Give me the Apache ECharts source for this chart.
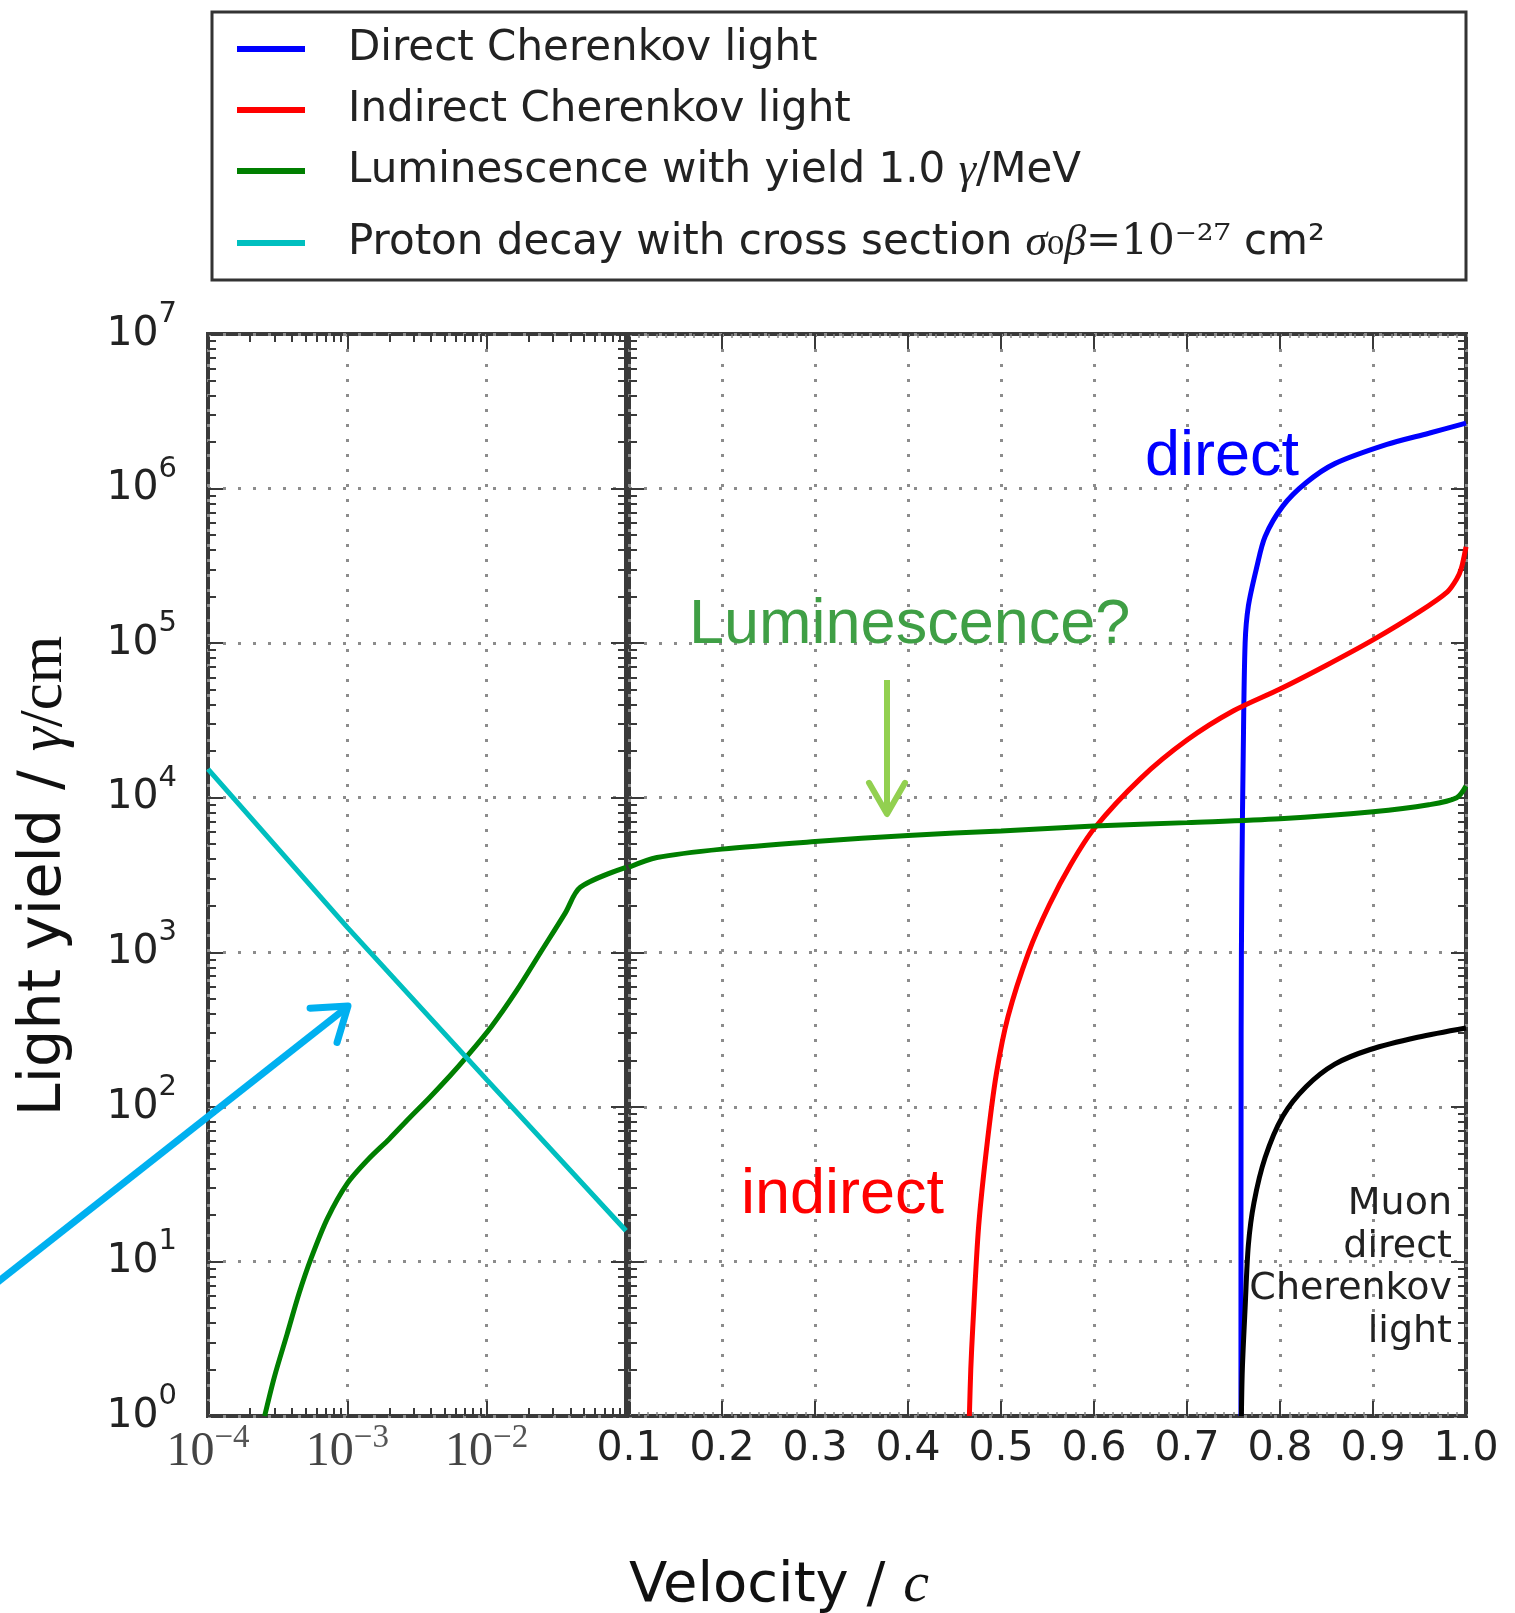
<!DOCTYPE html>
<html>
<head>
<meta charset="utf-8">
<title>Light yield vs velocity</title>
<script src="https://cdn.jsdelivr.net/npm/echarts@6/dist/echarts.min.js"></script>
<style>
  html, body { margin: 0; padding: 0; background: #ffffff; }
  #chart { width: 1515px; height: 1613px; }
</style>
</head>
<body>
<div id="chart"></div>
<script>
// ---------------- data ----------------
// Proton decay (left, log-velocity panel)
const protonX = [1e-4, 1e-3, 1e-2, 0.1];
const protonY = [15300, 1450, 150, 15.8];

// Luminescence, slow part (left panel)
const lumiLowX = [2.55e-4, 3.0e-4, 3.7e-4, 4.5e-4, 5.5e-4, 7.2e-4, 1.0e-3, 1.42e-3, 2.0e-3, 2.8e-3, 3.9e-3, 5.5e-3, 7.0e-3, 1.08e-2, 1.63e-2, 2.44e-2, 3.67e-2, 4.7e-2, 0.1];
const lumiLowY = [1, 1.8, 3.4, 6.2, 10.5, 19, 32, 46, 62, 85, 115, 160, 205, 330, 560, 1000, 1800, 2630, 3540];

// Luminescence, fast part (right panel)
const lumiHighX = [0.1, 0.13, 0.2, 0.3, 0.4, 0.5, 0.6, 0.7, 0.8, 0.9, 0.96, 0.99, 1.0];
const lumiHighY = [3550, 4100, 4650, 5200, 5700, 6100, 6550, 6900, 7300, 8100, 9000, 10000, 11900];

// Indirect Cherenkov light
const indirectX = [0.466, 0.4675, 0.4696, 0.476, 0.4854, 0.4949, 0.5076, 0.5297, 0.552, 0.575, 0.6, 0.65, 0.7, 0.75, 0.8, 0.85, 0.9, 0.95, 0.98, 0.99, 0.995, 1.0];
const indirectY = [1, 2, 3.7, 17, 60, 162, 385, 1000, 2030, 3700, 6300, 13300, 23600, 36500, 50500, 72000, 105000, 160000, 215000, 260000, 305000, 420000];

// Direct Cherenkov light
const directX = [0.758, 0.7582, 0.759, 0.7605, 0.7625, 0.766, 0.775, 0.784, 0.803, 0.828, 0.859, 0.915, 0.96, 1.0];
const directY = [1, 300, 3000, 20000, 100000, 174000, 310000, 490000, 770000, 1090000, 1450000, 1930000, 2280000, 2650000];

// Muon direct Cherenkov light
const muonX = [0.7585, 0.7595, 0.7625, 0.766, 0.772, 0.784, 0.803, 0.828, 0.859, 0.897, 0.948, 1.0];
const muonY = [1, 2, 5, 12.8, 24, 47, 87, 135, 189, 235, 282, 324];

// tick positions / labels
const logXTicks = [1e-4, 1e-3, 1e-2];
const logYTicks = [1, 10, 100, 1e3, 1e4, 1e5, 1e6, 1e7];
const linXTicks = [0.1, 0.2, 0.3, 0.4, 0.5, 0.6, 0.7, 0.8, 0.9, 1.0];

const NAME_DIRECT = 'Direct Cherenkov light';
const NAME_INDIRECT = 'Indirect Cherenkov light';
const NAME_LUMI = 'Luminescence with yield 1.0 γ/MeV';
const NAME_PROTON = 'Proton decay with cross section σ0β=10-27 cm2';
const NAME_MUON = 'Muon direct Cherenkov light';

// ---------------- helpers ----------------
const pairs = (xs, ys) => xs.map((x, i) => [x, ys[i]]);

function minorLog(lo, hi) {
  const out = [];
  for (let e = lo; e < hi; e++) {
    for (let m = 2; m <= 9; m++) out.push(m * Math.pow(10, e));
  }
  return out;
}

const FRAME = '#3a3a3a';
const GRID_LINE = { show: true, lineStyle: { color: '#8c8c8c', width: 3, type: [3, 12] } };
const TICK_MAJOR = (vals) => ({ show: true, inside: true, length: 15, lineStyle: { color: FRAME, width: 2 }, customValues: vals });
const TICK_MINOR = (vals) => ({ show: true, inside: true, length: 8, lineStyle: { color: FRAME, width: 2 }, customValues: vals });
const NO_LABEL = { show: false };
const NO_LINE = { show: false };

const G0 = { left: 208, top: 334, width: 418, height: 1082 };
const G1 = { left: 629, top: 334, width: 837, height: 1082 };

function logX(extra) {
  return Object.assign({ type: 'log', logBase: 10, min: 1e-4, max: 0.1, splitNumber: 3, gridIndex: 0,
    axisLine: NO_LINE, splitLine: { show: false }, axisLabel: NO_LABEL, axisTick: { show: false } }, extra);
}
function logY(grid, extra) {
  return Object.assign({ type: 'log', logBase: 10, min: 1, max: 1e7, splitNumber: 7, gridIndex: grid,
    axisLine: NO_LINE, splitLine: { show: false }, axisLabel: NO_LABEL, axisTick: { show: false } }, extra);
}
function linX(extra) {
  return Object.assign({ type: 'value', min: 0.1, max: 1.0, interval: 0.1, gridIndex: 1,
    axisLine: NO_LINE, splitLine: { show: false }, axisLabel: NO_LABEL,
    axisTick: { show: true, inside: true, length: 15, lineStyle: { color: FRAME, width: 2 } },
    minorTick: { show: true, splitNumber: 10, length: 4, lineStyle: { color: '#888', width: 1.5 } } }, extra);
}

const minorX = minorLog(-4, -1);
const minorY = minorLog(0, 7);

const superRichY = {
  b: { fontFamily: 'DejaVu Sans', fontSize: 41, color: '#222', lineHeight: 68 },
  s: { fontFamily: 'DejaVu Sans', fontSize: 29, color: '#222', verticalAlign: 'top' }
};
const superRichX = {
  b: { fontFamily: 'Liberation Serif', fontSize: 48, color: '#444', lineHeight: 60 },
  s: { fontFamily: 'Liberation Serif', fontSize: 33, color: '#555', verticalAlign: 'top' }
};

const lineBase = { type: 'line', symbol: 'none', showSymbol: false, smooth: 0.3, clip: true, silent: true };

// arrow head for a straight annotation arrow
function arrowHead(tail, tip, len, ang) {
  const dx = tip[0] - tail[0], dy = tip[1] - tail[1];
  const d = Math.hypot(dx, dy);
  const bx = -dx / d, by = -dy / d;
  const rot = (a) => [tip[0] + len * (bx * Math.cos(a) - by * Math.sin(a)), tip[1] + len * (bx * Math.sin(a) + by * Math.cos(a))];
  return [rot(ang), tip, rot(-ang)];
}

const cyanTail = [-6, 1285], cyanTip = [348, 1006];
const greenTail = [887, 680], greenTip = [887, 814];

const legendText = {};
legendText[NAME_DIRECT] = '{sp| }Direct Cherenkov light';
legendText[NAME_INDIRECT] = '{sp| }Indirect Cherenkov light';
legendText[NAME_LUMI] = '{sp| }Luminescence with yield 1.0 {g|γ}/MeV';
legendText[NAME_PROTON] = '{sp| }Proton decay with cross section {g|σ}{u|₀}{g|β}{u|=10⁻²⁷}{tall| cm²}';

const option = {
  animation: false,
  backgroundColor: '#ffffff',
  grid: [
    Object.assign({ show: true, borderColor: FRAME, borderWidth: 4, backgroundColor: 'transparent', outerBoundsMode: 'none' }, G0),
    Object.assign({ show: true, borderColor: FRAME, borderWidth: 4, backgroundColor: 'transparent', outerBoundsMode: 'none' }, G1)
  ],
  legend: {
    orient: 'vertical', left: 237, top: 24, padding: 0, itemGap: 11,
    itemWidth: 68, itemHeight: 6, icon: 'rect', selectedMode: false,
    data: [NAME_DIRECT, NAME_INDIRECT, NAME_LUMI, NAME_PROTON],
    formatter: (name) => legendText[name],
    textStyle: {
      fontFamily: 'DejaVu Sans', fontSize: 42, color: '#222', lineHeight: 50,
      rich: {
        sp: { width: 38, fontFamily: 'DejaVu Sans', fontSize: 42, lineHeight: 50 },
        g: { fontFamily: 'Liberation Serif', fontStyle: 'italic', fontSize: 44, color: '#222', lineHeight: 50 },
        u: { fontFamily: 'DejaVu Serif', fontSize: 42, color: '#222', lineHeight: 50 },
        tall: { fontFamily: 'DejaVu Sans', fontSize: 42, color: '#222', lineHeight: 72 }
      }
    }
  },
  xAxis: [
    logX({ position: 'bottom', splitLine: GRID_LINE, axisTick: TICK_MAJOR(logXTicks),
      axisLabel: { show: true, customValues: logXTicks, margin: 6,
        formatter: (v) => '{b|10}{s|−' + Math.round(-Math.log10(v)) + '}', rich: superRichX } }),
    logX({ position: 'bottom', axisTick: TICK_MINOR(minorX) }),
    logX({ position: 'top', axisTick: TICK_MAJOR(logXTicks) }),
    logX({ position: 'top', axisTick: TICK_MINOR(minorX) }),
    linX({ position: 'bottom', splitLine: GRID_LINE,
      axisLabel: { show: true, customValues: linXTicks, margin: 13, fontFamily: 'DejaVu Sans', fontSize: 41, color: '#222',
        formatter: (v) => v.toFixed(1) } }),
    linX({ position: 'top' })
  ],
  yAxis: [
    logY(0, { position: 'left', splitLine: GRID_LINE, axisTick: TICK_MAJOR(logYTicks),
      axisLabel: { show: true, customValues: logYTicks, margin: 31,
        formatter: (v) => '{b|10}{s|' + Math.round(Math.log10(v)) + '}', rich: superRichY } }),
    logY(0, { position: 'left', axisTick: TICK_MINOR(minorY) }),
    logY(0, { position: 'right', axisTick: TICK_MAJOR(logYTicks) }),
    logY(0, { position: 'right', axisTick: TICK_MINOR(minorY) }),
    logY(1, { position: 'left', splitLine: GRID_LINE, axisTick: TICK_MAJOR(logYTicks) }),
    logY(1, { position: 'left', axisTick: TICK_MINOR(minorY) }),
    logY(1, { position: 'right', axisTick: TICK_MAJOR(logYTicks) }),
    logY(1, { position: 'right', axisTick: TICK_MINOR(minorY) })
  ],
  series: [
    Object.assign({}, lineBase, { name: NAME_DIRECT, xAxisIndex: 4, yAxisIndex: 4, data: pairs(directX, directY),
      lineStyle: { color: '#0000ff', width: 5 }, itemStyle: { color: '#0000ff' } }),
    Object.assign({}, lineBase, { name: NAME_INDIRECT, xAxisIndex: 4, yAxisIndex: 4, data: pairs(indirectX, indirectY),
      lineStyle: { color: '#ff0000', width: 5 }, itemStyle: { color: '#ff0000' } }),
    Object.assign({}, lineBase, { name: NAME_LUMI, xAxisIndex: 0, yAxisIndex: 0, data: pairs(lumiLowX, lumiLowY),
      lineStyle: { color: '#007f00', width: 5 }, itemStyle: { color: '#007f00' } }),
    Object.assign({}, lineBase, { name: NAME_LUMI, xAxisIndex: 4, yAxisIndex: 4, data: pairs(lumiHighX, lumiHighY),
      lineStyle: { color: '#007f00', width: 5 }, itemStyle: { color: '#007f00' } }),
    Object.assign({}, lineBase, { name: NAME_PROTON, xAxisIndex: 0, yAxisIndex: 0, data: pairs(protonX, protonY), smooth: false,
      lineStyle: { color: '#00bfbf', width: 5 }, itemStyle: { color: '#00bfbf' } }),
    Object.assign({}, lineBase, { name: NAME_MUON, xAxisIndex: 4, yAxisIndex: 4, data: pairs(muonX, muonY),
      lineStyle: { color: '#000000', width: 5 }, itemStyle: { color: '#000000' } })
  ],
  graphic: [
    // legend frame
    { type: 'rect', shape: { x: 212, y: 12, width: 1254, height: 268 }, style: { fill: 'none', stroke: '#333', lineWidth: 3 }, z: 5 },
    // axis titles
    { type: 'text', x: 45, y: 876, rotation: Math.PI / 2, z: 10,
      style: { text: '{a|Light yield / }{g|γ}{r|/cm}', align: 'center', verticalAlign: 'middle',
        rich: {
          a: { fontFamily: 'DejaVu Sans', fontSize: 59, fill: '#111' },
          g: { fontFamily: 'Liberation Serif', fontStyle: 'italic', fontSize: 61, fill: '#111' },
          r: { fontFamily: 'Liberation Serif', fontSize: 61, fill: '#111' }
        } } },
    { type: 'text', x: 779, y: 1586, z: 10,
      style: { text: '{a|Velocity / }{c|c}', align: 'center', verticalAlign: 'middle',
        rich: {
          a: { fontFamily: 'DejaVu Sans', fontSize: 56, fill: '#111' },
          c: { fontFamily: 'Liberation Serif', fontStyle: 'italic', fontSize: 58, fill: '#111' }
        } } },
    // curve annotations
    { type: 'text', x: 1145, y: 458, z: 10,
      style: { text: 'direct', fontFamily: 'Liberation Sans', fontSize: 63, fill: '#0000ff', align: 'left', verticalAlign: 'middle' } },
    { type: 'text', x: 689, y: 626, z: 10,
      style: { text: 'Luminescence?', fontFamily: 'Liberation Sans', fontSize: 63, fill: '#3f9f45', align: 'left', verticalAlign: 'middle' } },
    { type: 'text', x: 741, y: 1196, z: 10,
      style: { text: 'indirect', fontFamily: 'Liberation Sans', fontSize: 63, fill: '#ff0000', align: 'left', verticalAlign: 'middle' } },
    { type: 'text', x: 1452, y: 1268, z: 10,
      style: { text: 'Muon\ndirect\nCherenkov\nlight', fontFamily: 'DejaVu Sans', fontSize: 38, lineHeight: 42.5,
        fill: '#222', align: 'right', verticalAlign: 'middle' } },
    // arrows
    { type: 'line', z: 10, shape: { x1: greenTail[0], y1: greenTail[1], x2: greenTip[0], y2: greenTip[1] - 3 },
      style: { stroke: '#92d050', lineWidth: 6 } },
    { type: 'polyline', z: 10, shape: { points: arrowHead(greenTail, greenTip, 36, Math.PI / 6) },
      style: { stroke: '#92d050', lineWidth: 6, fill: 'none', lineJoin: 'round', lineCap: 'round' } },
    { type: 'line', z: 10, shape: { x1: cyanTail[0], y1: cyanTail[1], x2: cyanTip[0] - 2, y2: cyanTip[1] + 2 },
      style: { stroke: '#00b0f0', lineWidth: 7 } },
    { type: 'polyline', z: 10, shape: { points: arrowHead(cyanTail, cyanTip, 38, Math.PI * 35 / 180) },
      style: { stroke: '#00b0f0', lineWidth: 7, fill: 'none', lineJoin: 'round', lineCap: 'round' } }
  ]
};

const chart = echarts.init(document.getElementById('chart'), null, { renderer: 'canvas' });
chart.setOption(option);
</script>
</body>
</html>
